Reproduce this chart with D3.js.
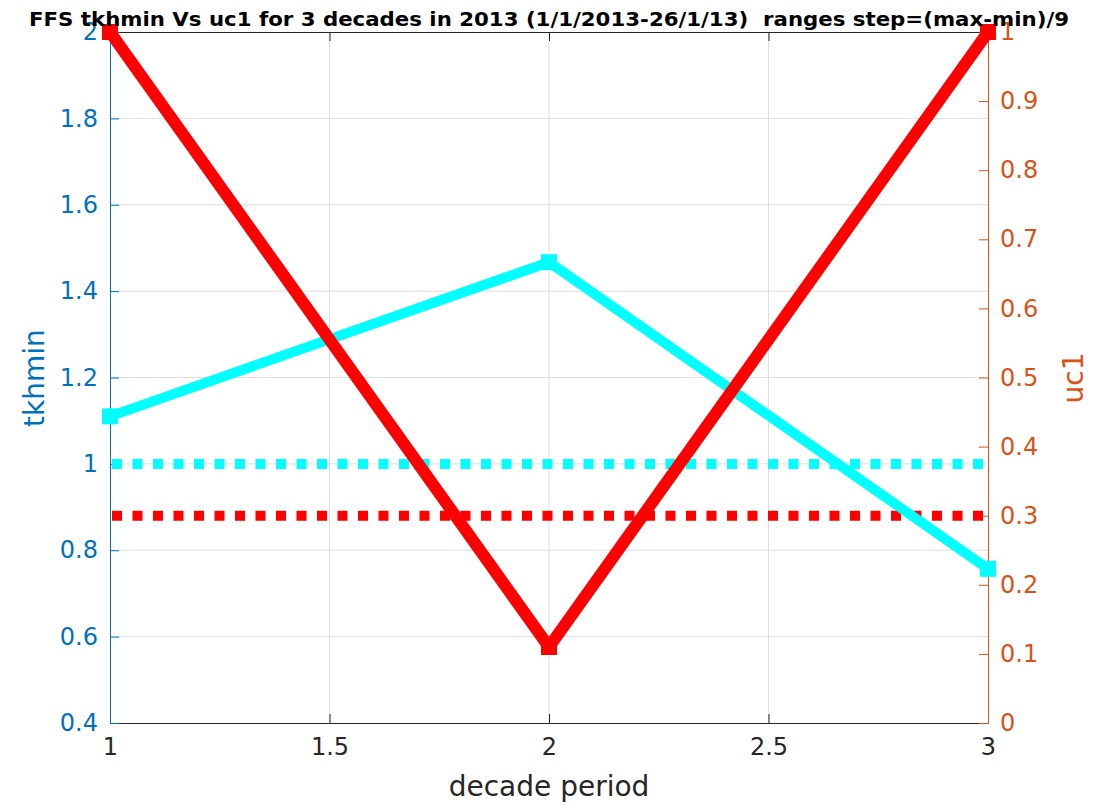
<!DOCTYPE html>
<html><head><meta charset="utf-8">
<script src="https://cdn.jsdelivr.net/npm/d3@7"></script>
<style>body{margin:0;background:#fff;} text{font-family:"DejaVu Sans",sans-serif;}</style>
</head><body>
<svg id="c" width="1111" height="806"></svg>
<script>
const decades = [1, 2, 3];
const tkhmin = [1.11, 1.467, 0.757];
const uc1 = [1, 0.11, 1];
const tkhminRef = 1;
const uc1Ref = 0.3;
const xTicks = [1, 1.5, 2, 2.5, 3];
const leftTicks = [0.4, 0.6, 0.8, 1, 1.2, 1.4, 1.6, 1.8, 2];
const rightTicks = [0, 0.1, 0.2, 0.3, 0.4, 0.5, 0.6, 0.7, 0.8, 0.9, 1];
const titleText = "FFS tkhmin Vs uc1 for 3 decades in 2013 (1/1/2013-26/1/13)  ranges step=(max-min)/9";

const L = 110, R = 988, T = 32, B = 723;
const svg = d3.select("#c");
const x = d3.scaleLinear().domain([1, 3]).range([L, R]);
const yL = d3.scaleLinear().domain([0.4, 2]).range([B, T]);
const yR = d3.scaleLinear().domain([0, 1]).range([B, T]);
const cBlue = "#0072BD", cOr = "#D95319", cAx = "#262626";

// grid
const g = svg.append("g");
g.selectAll("line.gx").data(xTicks.slice(1, -1)).join("line")
  .attr("x1", d => x(d)).attr("x2", d => x(d)).attr("y1", T).attr("y2", B)
  .attr("stroke", "#dedede").attr("stroke-width", 1);
g.selectAll("line.gy").data(leftTicks.slice(1, -1)).join("line")
  .attr("y1", d => yL(d)).attr("y2", d => yL(d)).attr("x1", L).attr("x2", R)
  .attr("stroke", "#dedede").attr("stroke-width", 1);

// axes
const ax = d3.axisBottom(x).tickValues(xTicks).tickFormat(d3.format("")).tickSizeInner(-9).tickSizeOuter(0).tickPadding(15);
const axG = svg.append("g").attr("transform", `translate(0,${B})`).call(ax);
axG.selectAll("path,line").attr("stroke", cAx);
axG.selectAll("text").attr("fill", cAx).style("font-size", "24px").attr("dy", "0.71em");

const axT = svg.append("g").attr("transform", `translate(0,${T})`).call(d3.axisTop(x).tickValues(xTicks).tickFormat("").tickSizeInner(-9).tickSizeOuter(0));
axT.selectAll("path,line").attr("stroke", cAx);

const al = d3.axisLeft(yL).tickValues(leftTicks).tickFormat(d3.format("")).tickSizeInner(-9).tickSizeOuter(0).tickPadding(12);
const alG = svg.append("g").attr("transform", `translate(${L},0)`).call(al);
alG.selectAll("path,line").attr("stroke", cBlue);
alG.selectAll("text").attr("fill", cBlue).style("font-size", "24px");

const ar = d3.axisRight(yR).tickValues(rightTicks).tickFormat(d3.format("")).tickSizeInner(-9).tickSizeOuter(0).tickPadding(12);
const arG = svg.append("g").attr("transform", `translate(${R},0)`).call(ar);
arG.selectAll("path,line").attr("stroke", cOr);
arG.selectAll("text").attr("fill", cOr).style("font-size", "24px");

// reference dotted lines
svg.append("line").attr("x1", x(1) + 2).attr("x2", x(3)).attr("y1", yL(tkhminRef)).attr("y2", yL(tkhminRef))
  .attr("stroke", "cyan").attr("stroke-width", 10).attr("stroke-dasharray", "10,10.5");
svg.append("line").attr("x1", x(1) + 2).attr("x2", x(3)).attr("y1", yR(uc1Ref)).attr("y2", yR(uc1Ref))
  .attr("stroke", "red").attr("stroke-width", 10).attr("stroke-dasharray", "10,10.5");

// series
const lineL = d3.line().x((d, i) => x(decades[i])).y(d => yL(d));
const lineR = d3.line().x((d, i) => x(decades[i])).y(d => yR(d));
svg.append("path").datum(tkhmin).attr("d", lineL).attr("fill", "none").attr("stroke", "cyan").attr("stroke-width", 10).attr("stroke-linejoin", "round");
svg.selectAll("rect.mc").data(tkhmin).join("rect")
  .attr("x", (d, i) => x(decades[i]) - 8).attr("y", d => yL(d) - 8).attr("width", 16).attr("height", 16).attr("fill", "cyan");
svg.append("path").datum(uc1).attr("d", lineR).attr("fill", "none").attr("stroke", "red").attr("stroke-width", 12).attr("stroke-linejoin", "round");
svg.selectAll("rect.mr").data(uc1).join("rect")
  .attr("x", (d, i) => x(decades[i]) - 8).attr("y", d => yR(d) - 8).attr("width", 16).attr("height", 16).attr("fill", "red");

// labels
svg.append("text").attr("x", (L + R) / 2).attr("y", 796).attr("text-anchor", "middle")
  .attr("fill", cAx).style("font-size", "28px").text("decade period");
svg.append("text").attr("transform", `translate(44,378) rotate(-90)`).attr("text-anchor", "middle")
  .attr("fill", cBlue).style("font-size", "28px").text("tkhmin");
svg.append("text").attr("transform", `translate(1083,378) rotate(-90)`).attr("text-anchor", "middle")
  .attr("fill", cOr).style("font-size", "28px").text("uc1");
svg.append("text").attr("x", 549).attr("y", 26).attr("text-anchor", "middle")
  .attr("fill", "#000").style("font-size", "20px").style("font-weight", "bold").style("white-space", "pre")
  .attr("textLength", 1040).attr("lengthAdjust", "spacingAndGlyphs").text(titleText);
</script>
</body></html>
